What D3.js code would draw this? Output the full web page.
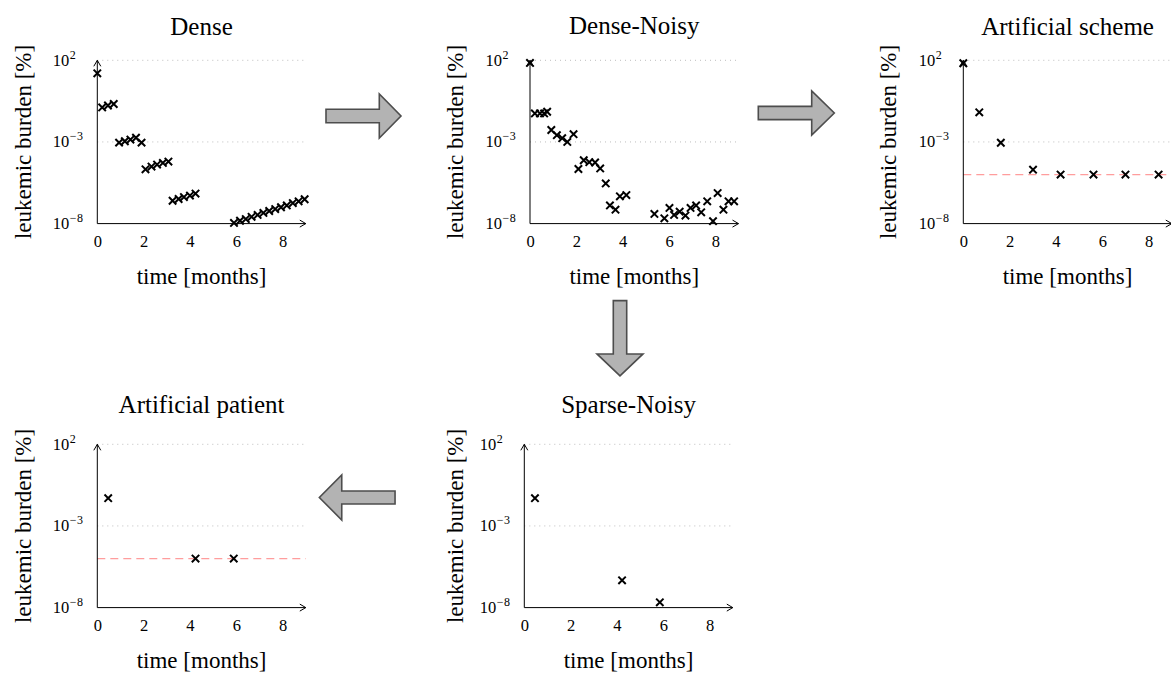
<!DOCTYPE html>
<html>
<head>
<meta charset="utf-8">
<script src="https://cdn.jsdelivr.net/npm/d3@7"></script>
<style>
  body { margin: 0; background: #fff; }
  svg text { font-family: "Liberation Serif", "DejaVu Serif", serif; }
</style>
</head>
<body>
<div id="chartContainer"></div>
<script>
// values, leukemic burden in %
var denseTime = [0, 0.21, 0.46, 0.71, 0.94, 1.19, 1.43, 1.67, 1.91, 2.08, 2.34, 2.58, 2.83, 3.07,
                 3.25, 3.51, 3.74, 4.00, 4.24, 5.90, 6.16, 6.41, 6.66, 6.92, 7.17, 7.42, 7.68,
                 7.93, 8.18, 8.44, 8.69, 8.95]
var denseBurden = [1.6e1, 1.3e-1, 1.7e-1, 2.1e-1, 9.1e-4, 1.1e-3, 1.4e-3, 1.8e-3, 9.1e-4, 2.1e-5,
                   3.1e-5, 4.1e-5, 5.2e-5, 6.3e-5, 2.5e-7, 3.2e-7, 4.2e-7, 5.2e-7, 6.9e-7,
                   1.1e-8, 1.5e-8, 1.9e-8, 2.6e-8, 3.4e-8, 4.5e-8, 5.9e-8, 7.8e-8, 1.0e-7,
                   1.3e-7, 1.8e-7, 2.3e-7, 3.1e-7]

var noisyTime = [0, 0.21, 0.43, 0.61, 0.74, 0.92, 1.16, 1.39, 1.61, 1.88, 2.09, 2.32, 2.56, 2.81,
                 3.03, 3.27, 3.45, 3.69, 3.88, 4.16, 5.37, 5.80, 6.02, 6.22, 6.46, 6.71, 6.93,
                 7.17, 7.39, 7.65, 7.90, 8.10, 8.35, 8.57, 8.81]
var noisyBurden = [6.9e1, 5.6e-2, 5.6e-2, 5.6e-2, 7.1e-2, 5.4e-3, 2.6e-3, 1.7e-3, 1.0e-3, 3.0e-3,
                   2.2e-5, 7.6e-5, 5.8e-5, 5.5e-5, 2.4e-5, 2.9e-6, 1.3e-7, 7.1e-8, 4.7e-7,
                   5.6e-7, 3.9e-8, 2.1e-8, 9.1e-8, 3.4e-8, 5.4e-8, 3.1e-8, 9.1e-8, 1.3e-7,
                   4.9e-8, 2.3e-7, 1.4e-8, 7.4e-7, 7.1e-8, 2.3e-7, 2.3e-7]

var schemeTime = [0, 0.69, 1.62, 3.01, 4.20, 5.62, 7.00, 8.43]
var schemeBurden = [6.6e1, 6.5e-2, 8.9e-4, 2.0e-5, 1.0e-5, 1.0e-5, 1.0e-5, 1.0e-5]

var patientTime = [0.47, 4.24, 5.89]
var patientBurden = [5.0e-2, 1.0e-5, 1.0e-5]

var sparseTime = [0.46, 4.22, 5.85]
var sparseBurden = [5.0e-2, 4.7e-7, 2.1e-8]

var detectionLimit = 1e-5

var timeTicks = [0, 2, 4, 6, 8]
var burdenTicks = [2, -3, -8]

var serif = "'Liberation Serif', 'DejaVu Serif', serif"

var panels = [
    { title: 'Dense', t: denseTime, v: denseBurden, limit: false, x0: 97.3, y0: 60.3, labelX: 22.7, titleY: 35 },
    { title: 'Dense-Noisy', t: noisyTime, v: noisyBurden, limit: false, x0: 530, y0: 60.3, labelX: 455, titleY: 34 },
    { title: 'Artificial scheme', t: schemeTime, v: schemeBurden, limit: true, x0: 963.3, y0: 60.3, labelX: 888.3, titleY: 35 },
    { title: 'Artificial patient', t: patientTime, v: patientBurden, limit: true, x0: 97.3, y0: 444.3, labelX: 22.7, titleY: 413 },
    { title: 'Sparse-Noisy', t: sparseTime, v: sparseBurden, limit: false, x0: 524.3, y0: 444.3, labelX: 455, titleY: 413 }
]

var plotWidth = 208.5,
    plotHeight = 163.3

var svg = d3.select('#chartContainer').append('svg')
            .attr('width', 1171)
            .attr('height', 675)
            .attr('font-family', serif)

function drawPanel(p) {
    var xScale = d3.scaleLinear()
                   .domain([0, 9])
                   .range([0, plotWidth])
    var yScale = d3.scaleLog()
                   .domain([1e-8, 1e2])
                   .range([plotHeight, 0])

    var g = svg.append('g').attr('transform', 'translate(' + p.x0 + ',' + p.y0 + ')')

    // dotted grid at 10^2 and 10^-3
    g.selectAll('.grid')
     .data(burdenTicks.slice(0, 2))
     .enter()
     .append('line')
     .attr('class', 'grid')
     .attr('x1', 0)
     .attr('x2', plotWidth)
     .attr('y1', function(d) { return yScale(Math.pow(10, d)) })
     .attr('y2', function(d) { return yScale(Math.pow(10, d)) })
     .style('stroke', '#bdbdbd')
     .style('stroke-width', 1)
     .style('stroke-dasharray', '1,4')

    if (p.limit) {
        g.append('line')
         .attr('x1', 0)
         .attr('x2', plotWidth)
         .attr('y1', yScale(detectionLimit))
         .attr('y2', yScale(detectionLimit))
         .style('stroke', '#ff9d9d')
         .style('stroke-width', 1.3)
         .style('stroke-dasharray', '8,5')
    }

    // axes with arrow tips
    var xAxis = d3.axisBottom(xScale).tickValues(timeTicks).tickSize(0).tickPadding(12)
    var gx = g.append('g').attr('transform', 'translate(0,' + plotHeight + ')').call(xAxis)
    gx.attr('font-family', serif).attr('font-size', 16.5)
    gx.select('.domain').remove()
    gx.selectAll('text').attr('fill', '#000')

    g.append('line')
     .attr('x1', 0).attr('x2', plotWidth)
     .attr('y1', plotHeight).attr('y2', plotHeight)
     .style('stroke', '#000').style('stroke-width', 1)
    g.append('path')
     .attr('d', 'M' + (plotWidth - 6) + ',' + (plotHeight - 3.5) + 'L' + plotWidth + ',' + plotHeight + 'L' + (plotWidth - 6) + ',' + (plotHeight + 3.5))
     .style('fill', 'none').style('stroke', '#000').style('stroke-width', 1)

    g.append('line')
     .attr('x1', 0).attr('x2', 0)
     .attr('y1', plotHeight).attr('y2', 0)
     .style('stroke', '#000').style('stroke-width', 1)
    g.append('path')
     .attr('d', 'M-3.5,6L0,0L3.5,6')
     .style('fill', 'none').style('stroke', '#000').style('stroke-width', 1)

    // y tick labels 10^k
    var yt = g.selectAll('.ytick')
              .data(burdenTicks)
              .enter()
              .append('text')
              .attr('class', 'ytick')
              .attr('x', -44.6)
              .attr('y', function(d) { return yScale(Math.pow(10, d)) + 5.5 })
              .style('font-size', '16.5px')
    yt.append('tspan').text('10')
    yt.append('tspan')
      .attr('dy', -7)
      .attr('dx', 0.5)
      .style('font-size', '12px')
      .style('letter-spacing', '0.5px')
      .text(function(d) { return d < 0 ? '\u2212' + (-d) : d })

    // crosses
    var pts = p.t.map(function(t, i) { return { t: t, v: p.v[i] } })
    g.selectAll('.mark')
     .data(pts)
     .enter()
     .append('path')
     .attr('class', 'mark')
     .attr('transform', function(d) { return 'translate(' + xScale(d.t) + ',' + yScale(d.v) + ')' })
     .attr('d', 'M-3.7,-3.7L3.7,3.7M-3.7,3.7L3.7,-3.7')
     .style('stroke', '#000')
     .style('stroke-width', 2)
     .style('fill', 'none')

    svg.append('text')
       .attr('x', p.x0 + plotWidth / 2)
       .attr('y', p.titleY)
       .attr('text-anchor', 'middle')
       .style('font-size', '25px')
       .text(p.title)

    svg.append('text')
       .attr('x', p.x0 + plotWidth / 2)
       .attr('y', p.y0 + plotHeight + 60.5)
       .attr('text-anchor', 'middle')
       .style('font-size', '23px')
       .text('time [months]')

    svg.append('text')
       .attr('transform', 'translate(' + p.labelX + ',' + (p.y0 + plotHeight / 2) + ') rotate(-90)')
       .attr('text-anchor', 'middle')
       .attr('dy', '0.35em')
       .style('font-size', '23px')
       .text('leukemic burden [%]')
}

panels.forEach(drawPanel)

// block arrows between the panels
var arrows = [
    { dir: 'right', cx: 363.5, cy: 116, len: 75, shaft: 13.4, head: 44, headLen: 21.7 },
    { dir: 'right', cx: 796.3, cy: 113, len: 76, shaft: 13.3, head: 44, headLen: 22.6 },
    { dir: 'down', cx: 620, cy: 338.3, len: 75.3, shaft: 13.4, head: 46, headLen: 22 },
    { dir: 'left', cx: 357.2, cy: 497.5, len: 75.7, shaft: 13, head: 45, headLen: 22.4 }
]

function arrowPoints(a) {
    var h = a.len / 2, s = a.shaft / 2, w = a.head / 2
    // shape pointing to +x, centred on 0
    var pts = [[-h, -s], [h - a.headLen, -s], [h - a.headLen, -w], [h, 0],
               [h - a.headLen, w], [h - a.headLen, s], [-h, s]]
    var rot = { right: 0, down: 90, left: 180 }[a.dir] * Math.PI / 180
    return pts.map(function(p) {
        return [a.cx + p[0] * Math.cos(rot) - p[1] * Math.sin(rot),
                a.cy + p[0] * Math.sin(rot) + p[1] * Math.cos(rot)]
    })
}

svg.selectAll('.block-arrow')
   .data(arrows)
   .enter()
   .append('polygon')
   .attr('class', 'block-arrow')
   .attr('points', function(d) { return arrowPoints(d).map(function(p) { return p.join(',') }).join(' ') })
   .style('fill', '#b3b3b3')
   .style('stroke', '#4d4d4d')
   .style('stroke-width', 1.6)
   .style('stroke-linejoin', 'miter')
</script>
</body>
</html>
